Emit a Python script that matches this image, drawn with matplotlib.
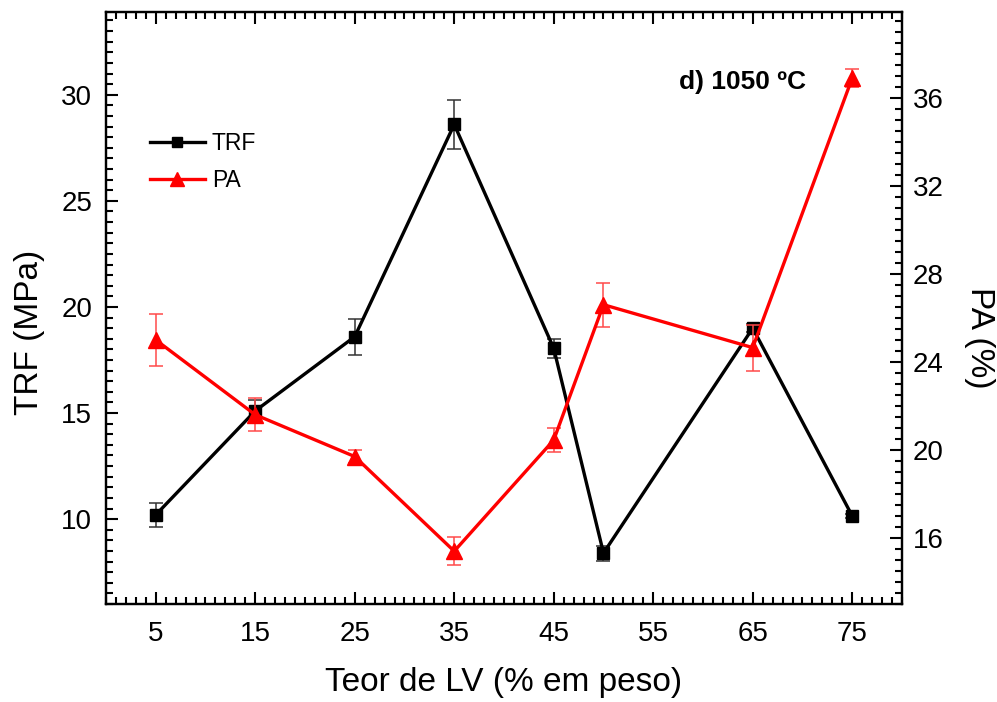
import matplotlib
matplotlib.use("Agg")
import matplotlib.pyplot as plt
from matplotlib.ticker import MultipleLocator
from matplotlib.lines import Line2D

plt.rcParams['font.family'] = ['Liberation Sans', 'DejaVu Sans']

# LV content (% by weight)
lv_content = [5, 15, 25, 35, 45, 50, 65, 75]
# Flexural strength TRF (MPa) and its standard deviation
trf = [10.2, 15.1, 18.6, 28.6, 18.05, 8.4, 19.0, 10.15]
trf_err = [0.55, 0.5, 0.85, 1.15, 0.45, 0.35, 0.2, 0.1]
# Apparent porosity PA (%) and its standard deviation
pa = [25.0, 21.6, 19.7, 15.4, 20.45, 26.6, 24.65, 36.9]
pa_err = [1.2, 0.75, 0.3, 0.65, 0.55, 1.0, 1.05, 0.4]

x_ticks = [5, 15, 25, 35, 45, 55, 65, 75]
trf_ticks = [10, 15, 20, 25, 30]
pa_ticks = [16, 20, 24, 28, 32, 36]

fig = plt.figure(figsize=(9.97, 7.02), dpi=100)
ax = fig.add_axes([0.1063, 0.1396, 0.7984, 0.8433])
ax2 = ax.twinx()

ax.errorbar(lv_content, trf, yerr=trf_err, color='black', lw=2.4,
            marker='s', ms=8.5, ecolor='#333333', elinewidth=1.1,
            capsize=4.8, capthick=1.1, zorder=3)
ax2.errorbar(lv_content, pa, yerr=pa_err, color='#ff0000', lw=2.4,
             marker='^', ms=12, ecolor='#ff4a4a', elinewidth=1.1,
             capsize=4.8, capthick=1.1, zorder=3)

ax.set_xlim(0, 80)
ax.set_ylim(6, 33.9)
ax2.set_ylim(13, 39.9)

ax.set_xticks(x_ticks)
ax.xaxis.set_minor_locator(MultipleLocator(1))
ax.set_yticks(trf_ticks)
ax.yaxis.set_minor_locator(MultipleLocator(0.5))
ax2.set_yticks(pa_ticks)
ax2.yaxis.set_minor_locator(MultipleLocator(0.5))

for a in (ax, ax2):
    for s in a.spines.values():
        s.set_linewidth(1.6)

ax.tick_params(axis='x', which='both', direction='in', top=True,
               bottom=True, labelsize=20, pad=12, width=1.5)
ax.tick_params(axis='y', which='both', direction='in', left=True,
               right=False, labelsize=20, pad=10, width=1.5)
ax.tick_params(which='major', length=8.5)
ax.tick_params(which='minor', length=5)
ax2.tick_params(axis='y', which='both', direction='in', right=True,
                labelsize=20, pad=8, width=1.5)
ax2.tick_params(which='major', length=8.5)
ax2.tick_params(which='minor', length=5)

ax.set_xlabel('Teor de LV (% em peso)', fontsize=24)
ax.xaxis.set_label_coords(0.5, -0.106)
ax.set_ylabel('TRF (MPa)', fontsize=24)
ax.yaxis.set_label_coords(-0.076, 0.458)
ax2.set_ylabel('PA (%)', fontsize=24, rotation=270, va='center')
ax2.yaxis.set_label_coords(1.098, 0.449)

ax2.text(0.72, 0.882, 'd) 1050 ºC', transform=ax.transAxes, fontsize=19,
         fontweight='bold', ha='left', va='center')

handles = [
    Line2D([], [], color='black', lw=2.4, marker='s', ms=7),
    Line2D([], [], color='#ff0000', lw=2.4, marker='^', ms=10),
]
ax2.legend(handles, ['TRF', 'PA'], loc='upper left',
           bbox_to_anchor=(0.055, 0.797), frameon=False, fontsize=16.5,
           handlelength=2.4, handletextpad=0.3, labelspacing=0.62,
           borderpad=0, borderaxespad=0, numpoints=1)

fig.savefig('out.png', dpi=100)
